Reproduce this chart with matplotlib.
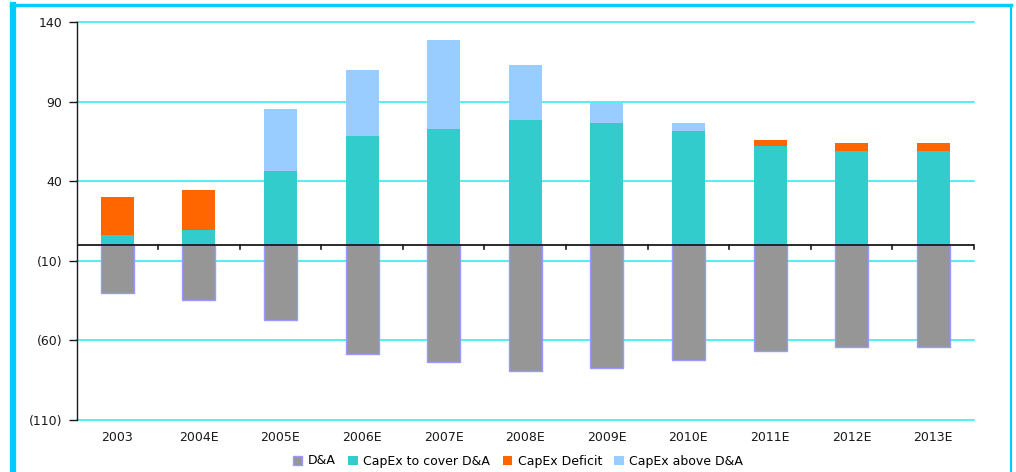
import matplotlib
matplotlib.use("Agg")
import matplotlib.pyplot as plt
from matplotlib.lines import Line2D
import numpy as np

categories = ["2003", "2004E", "2005E", "2006E", "2007E", "2008E", "2009E",
              "2010E", "2011E", "2012E", "2013E"]
d_and_a = [-30.3, -34.5, -47, -68.5, -73.5, -79, -77.3, -72, -66.5, -64, -64]
capex_cover = [6.3, 9.4, 46.5, 68.5, 72.9, 78.6, 76.6, 71.6, 62.4, 59, 59]
capex_deficit = [24, 25, 0, 0, 0, 0, 0, 0, 3.6, 5, 5]
capex_above = [0, 0, 38.9, 41.5, 55.9, 34.4, 12.6, 5, 0, 0, 0]

yticks = [140, 90, 40, -10, -60, -110]
ytick_labels = ["140", "90", "40", "(10)", "(60)", "(110)"]

plt.rcParams['font.family'] = ['DejaVu Sans']

fig = plt.figure(figsize=(10.16, 4.72), dpi=100)
ax = fig.add_axes([76.5 / 1016, 1 - 420 / 472, (974 - 76.5) / 1016, (420 - 22.3) / 472])

x = np.arange(len(categories))
w = 0.405
c_da = "#969696"
c_cover = "#33cccc"
c_def = "#ff6600"
c_above = "#99ccff"
txt = "#1a1a1a"
fs = 9

ax.bar(x, d_and_a, w, color=c_da, edgecolor="#9999ff", linewidth=1.0, zorder=3)
ax.bar(x, capex_cover, w, color=c_cover, linewidth=0, zorder=3)
ax.bar(x, capex_deficit, w, bottom=capex_cover, color=c_def, linewidth=0, zorder=3)
ax.bar(x, capex_above, w, bottom=capex_cover, color=c_above, linewidth=0, zorder=3)

ax.set_xlim(-0.5, len(categories) - 0.5)
ax.set_ylim(-110, 140)
ax.set_yticks(yticks)
ax.set_yticklabels(ytick_labels, fontsize=fs, color=txt)
ax.yaxis.grid(True, color="#33eeee", linewidth=1.2, zorder=0)
for gl in ax.yaxis.get_gridlines():
    gl.set_clip_on(False)
ax.set_axisbelow(True)
ax.tick_params(axis='y', length=6, width=1, color=txt, pad=4)

for s in ["top", "right", "bottom"]:
    ax.spines[s].set_visible(False)
ax.spines["left"].set_color(txt)
ax.spines["left"].set_linewidth(1.0)
ax.spines["left"].set_zorder(5)

# zero axis line with category separator ticks
ax.axhline(0, color=txt, linewidth=1.3, zorder=4)
for b in np.arange(0.5, len(categories), 1.0):
    ax.plot([b, b], [0, -2.2], color=txt, linewidth=1.2, zorder=4, clip_on=False)

ax.set_xticks(x)
ax.set_xticklabels(categories, fontsize=fs, color=txt)
ax.tick_params(axis='x', length=0, pad=8)

handles = [
    plt.Rectangle((0, 0), 1, 1, facecolor=c_da, edgecolor="#9999ff"),
    plt.Rectangle((0, 0), 1, 1, facecolor=c_cover, edgecolor="none"),
    plt.Rectangle((0, 0), 1, 1, facecolor=c_def, edgecolor="none"),
    plt.Rectangle((0, 0), 1, 1, facecolor=c_above, edgecolor="none"),
]
fig.legend(handles, ["D&A", "CapEx to cover D&A", "CapEx Deficit", "CapEx above D&A"],
           loc="center", bbox_to_anchor=(518 / 1016, 1 - 461 / 472), ncol=4,
           frameon=False, fontsize=fs, handlelength=0.75, handleheight=0.75,
           handletextpad=0.45, columnspacing=1.0)

# figure frame (cyan border)
fig.add_artist(Line2D([13 / 1016, 13 / 1016], [0, 1 - 4.5 / 472], transform=fig.transFigure,
                      color="#00ccff", linewidth=4.5))
fig.add_artist(Line2D([11 / 1016, 1011 / 1016], [1 - 4.5 / 472, 1 - 4.5 / 472], transform=fig.transFigure,
                      color="#00ccff", linewidth=2.5))
fig.add_artist(Line2D([1011 / 1016, 1011 / 1016], [0, 1 - 4.5 / 472], transform=fig.transFigure,
                      color="#00ccff", linewidth=1.5))

fig.savefig("out.png", dpi=100)
